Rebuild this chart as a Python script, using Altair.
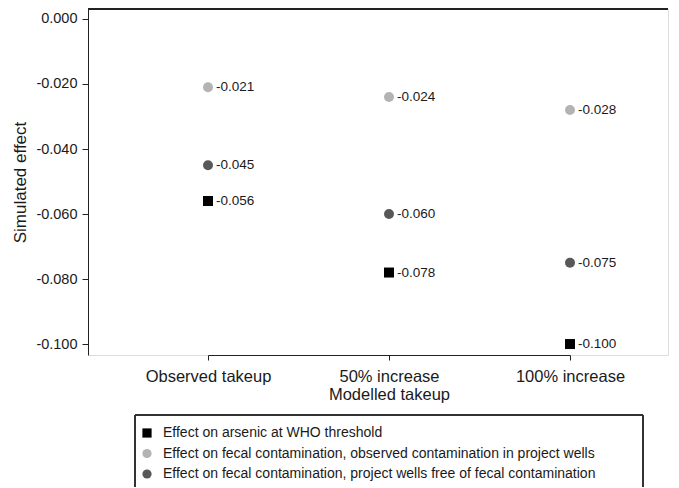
import altair as alt
import pandas as pd

categories = ["Observed takeup", "50% increase", "100% increase"]
series = [
    "Effect on arsenic at WHO threshold",
    "Effect on fecal contamination, observed contamination in project wells",
    "Effect on fecal contamination, project wells free of fecal contamination",
]
arsenic = [-0.056, -0.078, -0.100]
fecal_observed = [-0.021, -0.024, -0.028]
fecal_free = [-0.045, -0.060, -0.075]
colors = ["#000000", "#b3b3b3", "#585858"]
shapes = ["square", "circle", "circle"]
y_ticks = [0.0, -0.02, -0.04, -0.06, -0.08, -0.10]

rows = []
for s, vals in zip(series, [arsenic, fecal_observed, fecal_free]):
    for c, v in zip(categories, vals):
        rows.append({"cat": c, "series": s, "value": v, "label": f"{v:.3f}"})
df = pd.DataFrame(rows)

FONT = "Liberation Sans"
W, H = 580, 346

x = alt.X(
    "cat:N",
    sort=categories,
    scale=alt.Scale(domain=categories, range=[120, 482], padding=0),
    axis=alt.Axis(
        title="Modelled takeup",
        labelAngle=0,
        labelFontSize=16.5,
        titleFontSize=16.5,
        labelColor="#1a1a1a",
        titleColor="#1a1a1a",
        titleFontWeight="normal",
        labelPadding=8,
        titlePadding=2,
        tickSize=5,
        domainColor="#222222",
        tickColor="#222222",
        grid=False,
    ),
)
y = alt.Y(
    "value:Q",
    scale=alt.Scale(domain=[-0.10337, 0.00307], nice=False, zero=False),
    axis=alt.Axis(
        title="Simulated effect",
        values=y_ticks,
        labelExpr="replace(format(datum.value, '.3f'), '\u2212', '-')",
        labelFontSize=14.5,
        titleFontSize=17,
        titleFontWeight="normal",
        labelColor="#1a1a1a",
        titleColor="#1a1a1a",
        tickSize=6,
        labelPadding=5,
        titlePadding=6,
        domainColor="#222222",
        tickColor="#222222",
        grid=False,
    ),
)

color = alt.Color(
    "series:N",
    sort=series,
    scale=alt.Scale(domain=series, range=colors),
    legend=alt.Legend(
        title=None,
        orient="none",
        legendX=52,
        legendY=417,
        direction="vertical",
        padding=0,
        rowPadding=6.5,
        labelFontSize=14,
        labelFont=FONT,
        labelColor="#1a1a1a",
        symbolSize=85,
        labelOffset=9,
        labelLimit=700,
    ),
)
shape = alt.Shape(
    "series:N",
    sort=series,
    scale=alt.Scale(domain=series, range=shapes),
    legend=alt.Legend(title=None, orient="none", legendX=52, legendY=417),
)

points = alt.Chart(df).mark_point(filled=True, size=100, opacity=1).encode(
    x=x, y=y, color=color, shape=shape
)
labels = alt.Chart(df).mark_text(
    align="left", baseline="middle", dx=8, fontSize=13.5, font=FONT, color="#1a1a1a"
).encode(x=x, y=y, text="label:N")
top_line = alt.Chart(df).mark_rule(color="#222222", strokeWidth=1.2).encode(
    x=alt.value(0), x2=alt.value(W), y=alt.value(0)
)
legend_box = alt.Chart(df).mark_rect(
    fill=None, stroke="#333333", strokeWidth=1
).encode(x=alt.value(47), x2=alt.value(555), y=alt.value(406), y2=alt.value(500))

chart = (
    alt.layer(top_line, legend_box, points, labels)
    .properties(
        width=W,
        height=H,
        autosize=alt.AutoSizeParams(type="none"),
        padding={"left": 80, "top": 1, "right": 2, "bottom": 132},
    )
    .configure_view(stroke=None)
    .configure(font=FONT)
)

chart.save("out.html", embed_options={"renderer": "svg", "actions": False})
